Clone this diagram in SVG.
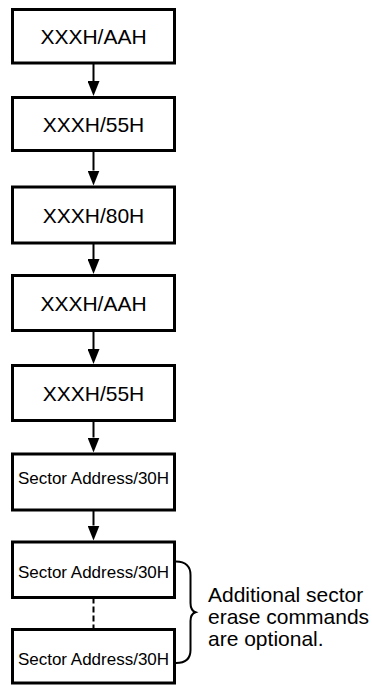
<svg xmlns="http://www.w3.org/2000/svg" width="372" height="685" viewBox="0 0 372 685">
<style>
.box{fill:#fff;stroke:#000;stroke-width:3}
.big{font-family:"Liberation Sans",Arial,sans-serif;font-size:21px;fill:#000;text-anchor:middle}
.small{font-family:"Liberation Sans",Arial,sans-serif;font-size:17px;fill:#000;text-anchor:middle}
.note{font-family:"Liberation Sans",Arial,sans-serif;font-size:21px;fill:#000}
.conn{stroke:#000;stroke-width:2;fill:none}
</style>
<defs>
<marker id="ah" markerUnits="userSpaceOnUse" markerWidth="15" markerHeight="12" refX="0" refY="6" orient="auto" viewBox="0 0 15 12">
<path d="M0,0 L15,6 L0,12 z" fill="#000"/>
</marker>
</defs>
<rect width="372" height="685" fill="#fff"/>
<g id="connectors">
<line class="conn" x1="93.5" y1="63" x2="93.5" y2="81" marker-end="url(#ah)"/>
<line class="conn" x1="93.5" y1="150.5" x2="93.5" y2="170.5" marker-end="url(#ah)"/>
<line class="conn" x1="93.5" y1="243" x2="93.5" y2="259" marker-end="url(#ah)"/>
<line class="conn" x1="93.5" y1="330.5" x2="93.5" y2="349" marker-end="url(#ah)"/>
<line class="conn" x1="93.5" y1="420.5" x2="93.5" y2="437.5" marker-end="url(#ah)"/>
<line class="conn" x1="93.5" y1="510" x2="93.5" y2="525.5" marker-end="url(#ah)"/>
<line class="conn" x1="93.5" y1="597.5" x2="93.5" y2="629.5" stroke-dasharray="6 3"/>
</g>
<g id="n1"><rect class="box" x="12.5" y="9.5" width="162" height="53.5"/><text class="big" x="93.5" y="43.8">XXXH/AAH</text></g>
<g id="n2"><rect class="box" x="12.5" y="97.5" width="162" height="53"/><text class="big" x="93.5" y="131.5">XXXH/55H</text></g>
<g id="n3"><rect class="box" x="12.5" y="187" width="162" height="56"/><text class="big" x="93.5" y="222.5">XXXH/80H</text></g>
<g id="n4"><rect class="box" x="12.5" y="275.5" width="162" height="55"/><text class="big" x="93.5" y="310.5">XXXH/AAH</text></g>
<g id="n5"><rect class="box" x="12.5" y="365.5" width="162" height="55"/><text class="big" x="93.5" y="400.5">XXXH/55H</text></g>
<g id="n6"><rect class="box" x="12.5" y="454" width="162" height="56"/><text class="small" x="93.5" y="484">Sector Address/30H</text></g>
<g id="n7"><rect class="box" x="12.5" y="542" width="162" height="55.5"/><text class="small" x="93.5" y="577.5">Sector Address/30H</text></g>
<g id="n8"><rect class="box" x="12.5" y="629.5" width="162" height="53.5"/><text class="small" x="93.5" y="665">Sector Address/30H</text></g>
<g id="brace">
<path class="conn" stroke-width="1.5" d="M176,561.5 C186,561.5 190.5,567 190.5,575 L190.5,603 C190.5,608 192,611 195.5,612.3 C192,613.5 190.5,617 190.5,621 L190.5,650 C190.5,658 186,663 176,663"/>
<text class="note" x="208" y="602">Additional sector</text>
<text class="note" x="208" y="624">erase commands</text>
<text class="note" x="208" y="646">are optional.</text>
</g>
</svg>
